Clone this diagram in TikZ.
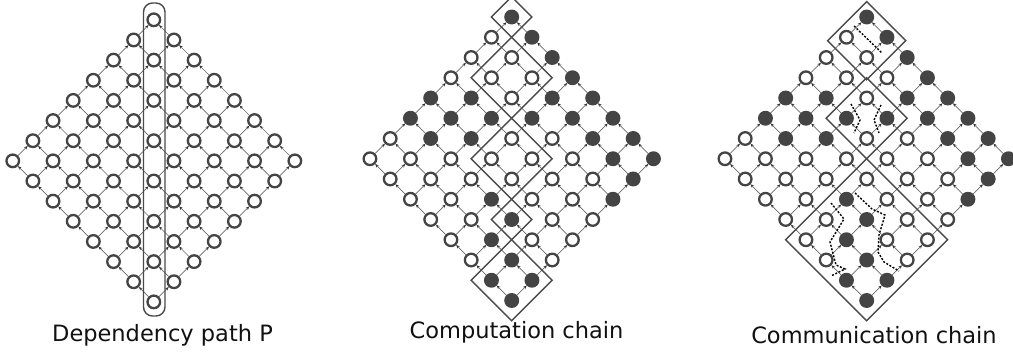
\documentclass[tikz,border=0pt]{standalone}
\usepackage{fontspec}
\setmainfont{DejaVu Sans}
\usetikzlibrary{arrows.meta}
\definecolor{ndcol}{HTML}{444444}
\definecolor{edgecol}{HTML}{6A6A6A}
\definecolor{boxcol}{HTML}{4A4A4A}
\definecolor{txtcol}{HTML}{111111}
\foreach \p in {0-0,0-1,0-2,0-3,0-4,0-5,0-6,0-7,1-3,1-4,1-5,1-6,1-7,2-3,2-7,3-1,3-2,4-0,4-1,4-2,5-0,5-1,5-4,5-5,6-5,6-6,6-7,7-6,7-7}{\expandafter\gdef\csname Fx\p\endcsname{}}
\tikzset{
  nd/.style={circle, draw=ndcol, line width=2.3pt, minimum size=12.6pt, inner sep=0pt, fill=white},
  fnd/.style={nd, fill=ndcol},
  edge/.style={draw=edgecol, line width=0.7pt, -{Stealth[length=3.6pt,width=3pt,color=black!80]}},
  box/.style={draw=boxcol, line width=1.4pt},
  comm/.style={draw=black, line width=1.4pt, dash pattern=on 2pt off 1.6pt},
  lab/.style={font=\fontsize{22.5}{27}\selectfont, text=txtcol, anchor=base, inner sep=0pt},
  gridL/.style={shift={(153.8,19.8)}, x={(20.15pt,-20.15pt)}, y={(-20.15pt,-20.15pt)}},
  gridM/.style={shift={(511.7,17)}, x={(20.25pt,-20.25pt)}, y={(-20.25pt,-20.25pt)}},
  gridR/.style={shift={(866.7,17)}, x={(20.25pt,-20.25pt)}, y={(-20.25pt,-20.25pt)}},
}
\newcommand{\drawgrid}[3]{% #1 prefix, #2 grid style, #3 use fill pattern (1/0)
  \begin{scope}[#2]
    \foreach \i in {0,...,7}{\foreach \j in {0,...,7}{%
      \ifnum#3=1
        \ifcsname Fx\i-\j\endcsname
          \node[fnd] (#1-\i-\j) at (\j,\i) {};
        \else
          \node[nd] (#1-\i-\j) at (\j,\i) {};
        \fi
      \else
        \node[nd] (#1-\i-\j) at (\j,\i) {};
      \fi
    }}
    \foreach \i in {0,...,7}{\foreach \j in {0,...,7}{%
      \pgfmathtruncatemacro\iip{\i+1}%
      \pgfmathtruncatemacro\jjp{\j+1}%
      \ifnum\i<7 \draw[edge] (#1-\iip-\j) -- (#1-\i-\j); \fi
      \ifnum\j<7 \draw[edge] (#1-\i-\jjp) -- (#1-\i-\j); \fi
    }}
  \end{scope}}
\newcommand{\blk}[2]{\draw[box] (#1,#1) -- (#2,#1) -- (#2,#2) -- (#1,#2) -- cycle;}
\begin{document}
\begin{tikzpicture}[x=1pt, y=-1pt]
  \useasboundingbox (0,0) rectangle (1013,354);
  % left diagram
  \drawgrid{L}{gridL}{0}
  \draw[box, rounded corners=9pt] (143.5,3) rectangle (165,316);
  % middle diagram
  \drawgrid{M}{gridM}{1}
  \begin{scope}[gridM]
    \blk{-0.5}{0.5}
    \blk{0.5}{2.5}
    \blk{2.5}{4.5}
    \blk{4.5}{5.5}
    \blk{5.5}{7.5}
  \end{scope}
  % right diagram
  \drawgrid{R}{gridR}{1}
  \begin{scope}[gridR]
    \blk{-0.38}{1.55}
    \blk{1.5}{3.5}
    \blk{3.5}{7.5}
  \end{scope}
  \draw[comm] (854,26) -- (882,53);
  \draw[comm] (851,104) -- (860,120) -- (854,133);
  \draw[comm] (881,105) -- (874,120) -- (879,133);
  \draw[comm] (831,203) -- (844,219) -- (830,242) -- (836,265) -- (845,269) -- (831,276);
  \draw[comm] (855,193) -- (872,209) -- (885,215) -- (879,235) -- (878,252) -- (884,262) -- (899,271);
  % labels
  \node[lab] (tL) at (162.5,341.7) {Dependency path P};
  \node[lab] (tM) at (516.5,338.3) {Computation chain};
  \node[lab] (tR) at (874,343.3) {Communication chain};
\end{tikzpicture}
\end{document}
